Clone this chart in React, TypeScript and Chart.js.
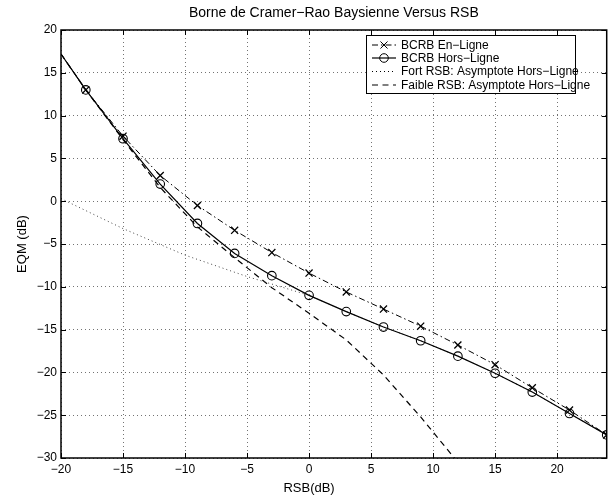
import React, { useEffect, useRef } from 'react';
import { Chart, registerables } from 'chart.js';

Chart.register(...registerables);

const snrPoints = [-20, -18, -15, -12, -9, -6, -3, 0, 3, 6, 9, 12, 15, 18, 21, 24];
const bcrbEnLigne = [17.2, 13.0, 7.6, 3.0, -0.5, -3.4, -6.0, -8.4, -10.6, -12.6, -14.6, -16.8, -19.1, -21.8, -24.4, -27.3];
const bcrbHorsLigne = [17.2, 13.0, 7.3, 2.0, -2.6, -6.1, -8.7, -11.0, -12.9, -14.7, -16.3, -18.1, -20.1, -22.3, -24.8, -27.3];
const fortSnr = [-20, -15, -10, -5, 0, 3, 6, 9, 12, 15, 18, 21, 24];
const fortAsymptote = [0.3, -3.2, -6.3, -8.8, -11.0, -12.9, -14.7, -16.3, -18.1, -20.1, -22.3, -24.8, -27.3];
const faibleSnr = [-20, -18, -15, -12, -9, -6, -3, 0, 3, 6, 9, 12];
const faibleAsymptote = [17.2, 13.0, 7.2, 1.6, -3.0, -6.6, -10.1, -13.1, -16.2, -20.3, -25.2, -30.5];

const xTicks = [-20, -15, -10, -5, 0, 5, 10, 15, 20];
const yTicks = [-30, -25, -20, -15, -10, -5, 0, 5, 10, 15, 20];

const titleText = 'Borne de Cramer\u2212Rao Baysienne Versus RSB';
const xLabel = 'RSB(dB)';
const yLabel = 'EQM (dB)';
const seriesLabels = [
  'BCRB En\u2212Ligne',
  'BCRB Hors\u2212Ligne',
  'Fort RSB: Asymptote Hors\u2212Ligne',
  'Faible RSB: Asymptote Hors\u2212Ligne',
];

const FONT = "'Liberation Sans', Arial, Helvetica, sans-serif";

const toXY = (xs: number[], ys: number[]) => xs.map((x, i) => ({ x, y: ys[i] }));
const fmt = (v: number | string) => String(v).replace('-', '\u2212');

function drawMarker(ctx: CanvasRenderingContext2D, style: string, x: number, y: number, r: number) {
  ctx.beginPath();
  if (style === 'circle') {
    ctx.arc(x, y, r, 0, Math.PI * 2);
  } else if (style === 'crossRot') {
    const d = r * Math.cos(Math.PI / 4);
    ctx.moveTo(x - d, y - d);
    ctx.lineTo(x + d, y + d);
    ctx.moveTo(x + d, y - d);
    ctx.lineTo(x - d, y + d);
  }
  ctx.stroke();
}

const decorPlugin = {
  id: 'decor',
  afterDraw(chart: any) {
    const { ctx, chartArea: a, scales } = chart;
    const xs = scales.x;
    const ys = scales.y;
    ctx.save();
    ctx.strokeStyle = '#000';
    ctx.lineWidth = 1;
    ctx.setLineDash([]);
    ctx.beginPath();
    for (const v of xTicks) {
      const px = Math.round(xs.getPixelForValue(v)) + 0.5;
      ctx.moveTo(px, a.bottom);
      ctx.lineTo(px, a.bottom - 5);
      ctx.moveTo(px, a.top);
      ctx.lineTo(px, a.top + 5);
    }
    for (const v of yTicks) {
      const py = Math.round(ys.getPixelForValue(v)) + 0.5;
      ctx.moveTo(a.left, py);
      ctx.lineTo(a.left + 5, py);
      ctx.moveTo(a.right, py);
      ctx.lineTo(a.right - 5, py);
    }
    ctx.stroke();
    ctx.lineWidth = 1.5;
    ctx.strokeRect(a.left, a.top, a.right - a.left, a.bottom - a.top);

    // title and axis labels
    ctx.fillStyle = '#000';
    ctx.textAlign = 'center';
    ctx.textBaseline = 'middle';
    ctx.font = `14px ${FONT}`;
    ctx.fillText(titleText, (a.left + a.right) / 2, 13);
    ctx.font = `13px ${FONT}`;
    ctx.fillText(xLabel, xs.getPixelForValue(0), 488);
    ctx.save();
    ctx.translate(22, (a.top + a.bottom) / 2);
    ctx.rotate(-Math.PI / 2);
    ctx.fillText(yLabel, 0, 0);
    ctx.restore();

    // legend
    const lx = 366, ly = 35, lw = 209, lh = 58;
    ctx.fillStyle = '#fff';
    ctx.fillRect(lx, ly, lw, lh);
    ctx.lineWidth = 1;
    ctx.strokeStyle = '#000';
    ctx.strokeRect(lx + 0.5, ly + 0.5, lw, lh);
    const rowY = [45, 58, 71.5, 85];
    chart.data.datasets.forEach((ds: any, i: number) => {
      const y = rowY[i];
      ctx.save();
      ctx.strokeStyle = '#000';
      ctx.lineWidth = ds.borderWidth;
      ctx.setLineDash(ds.borderDash || []);
      ctx.beginPath();
      ctx.moveTo(372, y);
      ctx.lineTo(396, y);
      ctx.stroke();
      ctx.setLineDash([]);
      ctx.lineWidth = 1;
      if (ds.legendMarker) drawMarker(ctx, ds.legendMarker, 384, y, ds.legendRadius);
      ctx.restore();
      ctx.fillStyle = '#000';
      ctx.textAlign = 'left';
      ctx.textBaseline = 'middle';
      ctx.font = `12px ${FONT}`;
      ctx.fillText(ds.label, 401, y + 0.5);
    });
    ctx.restore();
  },
};

export default function App() {
  const canvasRef = useRef<HTMLCanvasElement | null>(null);

  useEffect(() => {
    if (!canvasRef.current) return;
    Chart.defaults.font.family = FONT;
    const markerRadius = (r: number) => (c: any) => (c.dataIndex === 0 ? 0 : r);
    const chart = new Chart(canvasRef.current, {
      type: 'scatter',
      data: {
        datasets: [
          {
            label: seriesLabels[0],
            data: toXY(snrPoints, bcrbEnLigne),
            showLine: true,
            borderColor: '#000',
            backgroundColor: 'transparent',
            borderWidth: 1,
            borderDash: [6, 3, 1.5, 3],
            pointStyle: 'crossRot',
            pointRadius: markerRadius(5),
            pointBorderWidth: 1.3,
            pointBorderColor: '#000',
            legendMarker: 'crossRot',
            legendRadius: 5,
          } as any,
          {
            label: seriesLabels[1],
            data: toXY(snrPoints, bcrbHorsLigne),
            showLine: true,
            borderColor: '#000',
            backgroundColor: 'transparent',
            borderWidth: 1.2,
            pointStyle: 'circle',
            pointRadius: markerRadius(4.3),
            pointBorderWidth: 1.1,
            pointBorderColor: '#000',
            pointBackgroundColor: 'transparent',
            legendMarker: 'circle',
            legendRadius: 4.3,
          } as any,
          {
            label: seriesLabels[2],
            data: toXY(fortSnr, fortAsymptote),
            showLine: true,
            borderColor: '#444',
            backgroundColor: 'transparent',
            borderWidth: 1,
            borderDash: [1, 3],
            pointRadius: 0,
          } as any,
          {
            label: seriesLabels[3],
            data: toXY(faibleSnr, faibleAsymptote),
            showLine: true,
            borderColor: '#000',
            backgroundColor: 'transparent',
            borderWidth: 1.2,
            borderDash: [6, 4.5],
            pointRadius: 0,
          } as any,
        ],
      },
      options: {
        responsive: false,
        animation: false,
        devicePixelRatio: 1,
        layout: { padding: { left: 0, right: 6, top: 30, bottom: 0 } },
        plugins: {
          legend: { display: false },
          title: { display: false },
          tooltip: { enabled: false },
        },
        scales: {
          x: {
            type: 'linear',
            min: -20,
            max: 24,
            afterBuildTicks: (s: any) => {
              s.ticks = xTicks.map((v) => ({ value: v }));
            },
            afterFit: (s: any) => {
              s.height = 41;
            },
            grid: {
              color: 'rgba(0,0,0,0.55)',
              lineWidth: 1,
              drawTicks: false,
              borderDash: [1, 3],
            } as any,
            border: { display: false, dash: [1, 3] } as any,
            ticks: {
              color: '#000',
              font: { size: 12, family: FONT },
              padding: 4,
              maxRotation: 0,
              callback: (v: any) => fmt(v),
            },
          },
          y: {
            type: 'linear',
            min: -30,
            max: 20,
            afterBuildTicks: (s: any) => {
              s.ticks = yTicks.map((v) => ({ value: v }));
            },
            afterFit: (s: any) => {
              s.width = 61;
            },
            grid: {
              color: 'rgba(0,0,0,0.55)',
              lineWidth: 1,
              drawTicks: false,
            },
            border: { display: false, dash: [1, 3] } as any,
            ticks: {
              color: '#000',
              font: { size: 12, family: FONT },
              padding: 4,
              callback: (v: any) => fmt(v),
            },
          },
        },
      } as any,
      plugins: [decorPlugin],
    });
    // dotted grid
    (chart.options.scales as any).x.grid.tickBorderDash = [1, 3];
    return () => chart.destroy();
  }, []);

  return (
    <div style={{ position: 'absolute', left: 0, top: 0, width: 613, height: 499, background: '#fff' }}>
      <canvas ref={canvasRef} width={613} height={499} style={{ width: 613, height: 499 }} />
    </div>
  );
}
